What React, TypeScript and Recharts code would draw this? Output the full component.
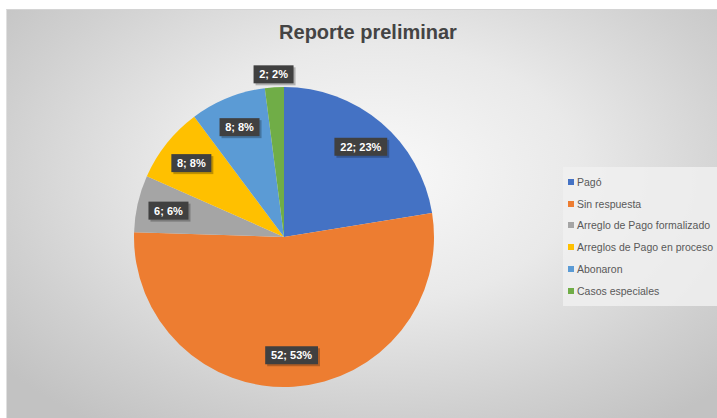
import { PieChart, Pie, Cell, Legend } from 'recharts';

const categorias = [
    'Pagó',
    'Sin respuesta',
    'Arreglo de Pago formalizado',
    'Arreglos de Pago en proceso',
    'Abonaron',
    'Casos especiales',
];
const valores = [22, 52, 6, 8, 8, 2];
const porcentajes = [23, 53, 6, 8, 8, 2];
const colores = ['#4472C4', '#ED7D31', '#A5A5A5', '#FFC000', '#5B9BD5', '#70AD47'];

const data = categorias.map((nombre, i) => ({
    nombre,
    valor: valores[i],
    pct: porcentajes[i],
}));

const RAD = Math.PI / 180;

const EtiquetaDato = (props: any) => {
    const { cx, cy, midAngle, outerRadius, index, percent } = props;
    const r = percent < 0.04 ? outerRadius + 13 : outerRadius * 0.79;
    const x = cx + r * Math.cos(-midAngle * RAD);
    const y = cy + r * Math.sin(-midAngle * RAD);
    const texto = `${valores[index]}; ${porcentajes[index]}%`;
    const w = texto.length * 6.4 + 8;
    const h = 18;
    return (
        <g>
            <rect x={x - w / 2 + 2} y={y - h / 2 + 2} width={w} height={h} fill="rgba(0,0,0,0.25)" />
            <rect x={x - w / 2} y={y - h / 2} width={w} height={h} fill="#404040" />
            <text
                x={x}
                y={y + 4}
                textAnchor="middle"
                fill="#ffffff"
                fontSize={11}
                fontWeight="bold"
                fontFamily="Liberation Sans, Arial, sans-serif"
            >
                {texto}
            </text>
        </g>
    );
};

const Leyenda = () => (
    <div
        style={{
            background: 'rgba(240,240,240,0.85)',
            padding: '4px 0 4px 5px',
            fontFamily: 'Liberation Sans, Arial, sans-serif',
            fontSize: 10.5,
            color: '#595959',
        }}
    >
        {categorias.map((c, i) => (
            <div key={c} style={{ display: 'flex', alignItems: 'center', height: 21.8 }}>
                <span
                    style={{
                        width: 6,
                        height: 6,
                        background: colores[i],
                        display: 'inline-block',
                        marginRight: 3,
                    }}
                />
                <span style={{ whiteSpace: 'nowrap' }}>{c}</span>
            </div>
        ))}
    </div>
);

export default function App() {
    return (
        <div
            style={{
                position: 'absolute',
                left: 0,
                top: 0,
                width: 717,
                height: 418,
                background: '#ffffff',
                overflow: 'hidden',
            }}
        >
            <div
                style={{
                    position: 'absolute',
                    left: 6,
                    top: 9,
                    width: 711,
                    height: 409,
                    borderTop: '1px solid #d4d4d4',
                    borderLeft: '1px solid #e0e0e0',
                    background:
                        'radial-gradient(ellipse 68% 75% at 52% 40%, #f9f9f9 0%, #e9e9e9 42%, #d0d0d0 78%, #c2c2c2 100%)',
                }}
            />
            <div
                style={{
                    position: 'absolute',
                    left: 0,
                    top: 21,
                    width: 736,
                    textAlign: 'center',
                    fontFamily: 'Liberation Sans, Arial, sans-serif',
                    fontWeight: 'bold',
                    fontSize: 20,
                    color: '#444444',
                }}
            >
                Reporte preliminar
            </div>
            <div style={{ position: 'absolute', left: 0, top: 0 }}>
                <PieChart width={717} height={418} margin={{ top: 0, right: 0, bottom: 0, left: 0 }}>
                    <Pie
                        data={data}
                        dataKey="valor"
                        nameKey="nombre"
                        cx={284}
                        cy={237}
                        outerRadius={150}
                        startAngle={90}
                        endAngle={-270}
                        stroke="none"
                        label={EtiquetaDato}
                        labelLine={false}
                        isAnimationActive={false}
                    >
                        {data.map((d, i) => (
                            <Cell key={d.nombre} fill={colores[i]} />
                        ))}
                    </Pie>
                    <Legend
                        content={<Leyenda />}
                        wrapperStyle={{ position: 'absolute', left: 563, top: 167, width: 160 }}
                    />
                </PieChart>
            </div>
        </div>
    );
}
